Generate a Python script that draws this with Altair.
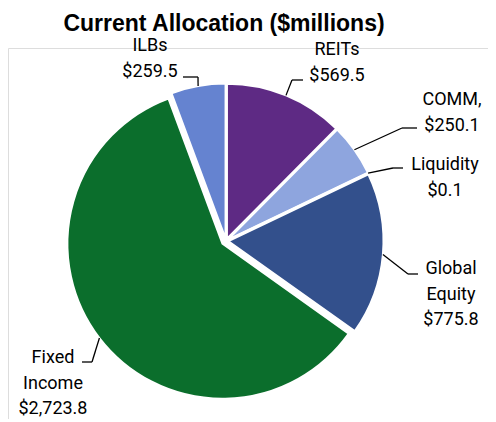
import altair as alt
import pandas as pd

# ---- data (clockwise from 12 o'clock) ----
CATEGORIES = ["REITs", "COMM", "Liquidity", "Global Equity", "Fixed Income", "ILBs"]
DISPLAY = ["REITs", "COMM,", "Liquidity", "Global\nEquity", "Fixed\nIncome", "ILBs"]
VALUES = [569.5, 250.1, 0.1, 775.8, 2723.8, 259.5]
COLORS = ["#5E2A84", "#8EA5DE", "#8EA5DE", "#33508C", "#0B6E2C", "#6583D0"]

# ---- layout (label placement, plot-pixel units) ----
EXPLODE = [2.5, 2.5, 2.5, 2.5, 4.5, 2.5]
LABEL_X = [329, 444, 437, 443, 45, 142]
LABEL_Y = [7, 57, 122, 226, 315, 3]
LEADER_Y = [32, 80, 120, 226, 314, 29]
LEADER_KNEE_X = [284, 394, 385, 400, 84, 190]
LEADER_END_X = [295, 409, 395, 410, 74, 175]

CX, CY, R = 218, 193, 155
FONT = "Roboto"
TITLE_FONT = "Liberation Sans"

df = pd.DataFrame({
    "category": CATEGORIES,
    "display": DISPLAY,
    "value": VALUES,
    "order": list(range(len(CATEGORIES))),
    "explode": EXPLODE,
    "lx": LABEL_X,
    "ly": LABEL_Y,
    "leady": LEADER_Y,
    "kneex": LEADER_KNEE_X,
    "endx": LEADER_END_X,
})

base = alt.Chart(df).transform_joinaggregate(
    total="sum(value)"
).transform_window(
    cum="sum(value)", sort=[alt.SortField("order")], frame=[None, 0]
).transform_calculate(
    t0="(datum.cum - datum.value) / datum.total * 2 * PI",
    t1="datum.cum / datum.total * 2 * PI",
).transform_calculate(
    mid="(datum.t0 + datum.t1) / 2",
).transform_calculate(
    cx=f"{CX} + datum.explode * sin(datum.mid)",
    cy=f"{CY} - datum.explode * cos(datum.mid)",
    sx=f"{CX} + ({R} + datum.explode) * sin(datum.mid)",
    sy=f"{CY} - ({R} + datum.explode) * cos(datum.mid)",
    label="datum.display + '\\n$' + format(datum.value, ',.1f')",
)

arcs = base.mark_arc(outerRadius=R, stroke="white", strokeWidth=2).encode(
    theta=alt.Theta("t0:Q", scale=None),
    theta2="t1:Q",
    x=alt.X("cx:Q", scale=None),
    y=alt.Y("cy:Q", scale=None),
    color=alt.Color("category:N",
                    scale=alt.Scale(domain=CATEGORIES, range=COLORS),
                    legend=None),
    tooltip=["category:N", "value:Q"],
)

leader_diag = base.mark_rule(color="black", strokeWidth=1.3).encode(
    x=alt.X("sx:Q", scale=None),
    y=alt.Y("sy:Q", scale=None),
    x2="kneex:Q",
    y2="leady:Q",
)

leader_h = base.mark_rule(color="black", strokeWidth=1.3).encode(
    x=alt.X("kneex:Q", scale=None),
    y=alt.Y("leady:Q", scale=None),
    x2="endx:Q",
    y2="leady:Q",
)

labels = base.mark_text(
    align="center", baseline="alphabetic", lineBreak="\n",
    lineHeight=25.5, fontSize=18, font=FONT, color="black",
).encode(
    x=alt.X("lx:Q", scale=None),
    y=alt.Y("ly:Q", scale=None),
    text="label:N",
)

chart = alt.layer(arcs, leader_diag, leader_h, labels).properties(
    width=480,
    height=371,
    title=alt.TitleParams(
        "Current Allocation ($millions)",
        font=TITLE_FONT, fontSize=23, fontWeight="bold", color="black",
        anchor="middle", dx=-24, dy=3,
    ),
    autosize=alt.AutoSizeParams(type="none"),
    padding={"left": 0, "right": 0, "top": 40, "bottom": 0},
).configure_view(stroke=None).configure(background="white")

chart.save("out.html", embed_options={"renderer": "svg", "actions": False})
